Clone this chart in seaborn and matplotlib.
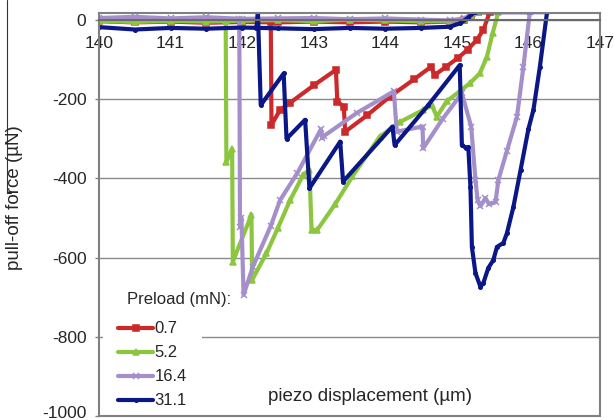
import matplotlib
matplotlib.use("Agg")
import matplotlib.pyplot as plt
import matplotlib.transforms as mtransforms
from matplotlib.lines import Line2D
import pandas as pd
import seaborn as sns

# Preload levels (mN) and the pull-off curves recorded for each one.
# Every path runs along the approach baseline, up into compression,
# then back along the retraction branch until the final detachment.
preloads = ["0.7", "5.2", "16.4", "31.1"]

red_x = [140.0, 140.5, 141.0, 141.5, 142.0, 142.5, 143.0, 143.5, 144.0, 144.5, 144.9, 145.1, 145.2, 145.3,
         145.46, 145.37, 145.28, 145.15, 145.02, 144.85, 144.69, 144.64, 144.4, 144.06, 143.75,
         143.44, 143.42, 143.33, 143.31, 143.0, 142.67, 142.53, 142.41, 142.40]
red_y = [-3, -6, -4, -7, -5, -6, -4, -6, -4, -6, -4, 0, 8, 20,
         20, -25, -50, -75, -95, -118, -139, -118, -150, -194, -240,
         -282, -219, -206, -126, -165, -209, -227, -265, -5]

green_x = [140.0, 140.5, 141.0, 141.5, 142.0, 142.5, 143.0, 143.5, 144.0, 144.5, 144.9, 145.1, 145.2, 145.3,
           145.58, 145.5, 145.42, 145.32, 145.18, 145.04, 144.86, 144.72, 144.65, 144.53, 144.2,
           143.92, 143.54, 143.3, 143.05, 142.97, 142.94, 142.85, 142.67, 142.5, 142.34, 142.14, 142.13,
           141.87, 141.86, 141.78, 141.77]
green_y = [-2, -5, -2, -4, -2, 0, -3, 1, -1, -3, -3, 2, 10, 20,
           20, -33, -93, -135, -160, -180, -205, -244, -215, -227, -258,
           -295, -395, -465, -530, -530, -378, -392, -455, -525, -589, -656, -492,
           -610, -326, -358, -3]

purple_x = [140.0, 140.5, 141.0, 141.5, 142.0, 142.5, 143.0, 143.5, 144.0, 144.5, 144.9, 145.1, 145.2, 145.25,
            146.02, 145.93, 145.84, 145.7, 145.58, 145.54, 145.45, 145.4, 145.33, 145.29, 145.26, 145.2,
            145.07, 144.8, 144.53, 144.52, 144.16, 144.12, 143.6, 143.15, 143.12, 143.1, 142.77, 142.53,
            142.4, 142.15, 142.02, 141.99, 141.97, 141.96]
purple_y = [5, 8, 4, 7, 3, 4, 5, 2, 4, 1, -1, 4, 12, 20,
            20, -118, -244, -330, -404, -460, -465, -450, -470, -455, -404, -269,
            -185, -250, -324, -269, -282, -180, -235, -292, -298, -276, -387, -455,
            -520, -623, -694, -500, -522, 3]

blue_x = [140.0, 140.5, 141.0, 141.5, 142.0, 142.5, 143.0, 143.5, 144.0, 144.5, 144.9, 145.05, 145.15, 145.25,
          146.26, 146.16, 146.07, 146.0, 145.89, 145.79, 145.7, 145.65, 145.56, 145.51, 145.44, 145.37,
          145.33, 145.26, 145.21, 145.19, 145.16, 145.13, 145.07, 145.04, 144.6, 144.13, 144.1,
          143.41, 143.37, 142.94, 142.88, 142.62, 142.58, 142.26, 142.22, 142.2]
blue_y = [-18, -24, -20, -22, -19, -21, -23, -20, -22, -20, -17, -8, 5, 20,
          20, -118, -227, -275, -379, -472, -538, -563, -573, -606, -626, -664,
          -674, -639, -573, -422, -321, -323, -316, -114, -215, -316, -269,
          -408, -307, -425, -252, -300, -135, -215, 20, -20]

y_ticks = [0, -200, -400, -600, -800, -1000]
x_ticks = [140, 141, 142, 143, 144, 145, 146, 147]

colors = {"0.7": "#cc2a2a", "5.2": "#8cc63f", "16.4": "#a48fcb", "31.1": "#0b1787"}
markers = {"0.7": "s", "5.2": "^", "16.4": "x", "31.1": "."}

frames = []
for level, xs, ys in zip(preloads, [red_x, green_x, purple_x, blue_x], [red_y, green_y, purple_y, blue_y]):
    frames.append(pd.DataFrame({"x": xs, "y": ys, "preload": level}))
df = pd.concat(frames, ignore_index=True)

sns.set_style("white")
plt.rcParams["font.family"] = ["Liberation Sans", "DejaVu Sans"]
plt.rcParams["axes.unicode_minus"] = False

fig = plt.figure(figsize=(6.14, 4.2), dpi=100)
ax = fig.add_axes([99 / 614, 4 / 420, 501 / 614, 403 / 420])

for level in preloads:
    sub = df[df["preload"] == level]
    sns.lineplot(data=sub, x="x", y="y", color=colors[level], marker=markers[level],
                 sort=False, estimator=None, linewidth=3.0, markersize=5,
                 markeredgecolor=colors[level], markeredgewidth=1.1, legend=False, ax=ax)

grey = "#808080"
ax.set_xlim(140, 147)
ax.set_ylim(-1000, 17.7)
ax.set_xticks(x_ticks)
ax.set_xticklabels([str(v) for v in x_ticks])
ax.set_yticks(y_ticks)
ax.set_yticklabels([str(v) for v in y_ticks])
ax.set_xlabel("")
ax.set_ylabel("")

ax.yaxis.grid(True, color="#8a8a8a", linewidth=1.0)
ax.xaxis.grid(False)
ax.set_axisbelow(True)

for side in ["left", "right", "top"]:
    ax.spines[side].set_color(grey)
    ax.spines[side].set_linewidth(1.5)
ax.spines["bottom"].set_position(("data", 0))
ax.spines["bottom"].set_color("#6a6a6a")
ax.spines["bottom"].set_linewidth(1.5)
ax.plot([0, 1], [0, 0], transform=ax.transAxes, color=grey, lw=1.5, clip_on=False, zorder=8)

ax.tick_params(axis="x", direction="out", length=3, width=1, color=grey, pad=8.5, labelsize=12.5)
ax.tick_params(axis="y", direction="out", length=3, width=1, color=grey, pad=6, labelsize=12.5,
               left=True)

# keep the lowest y label inside the canvas
low_label = ax.yaxis.get_major_ticks()[-1].label1
low_label.set_transform(low_label.get_transform()
                        + mtransforms.ScaledTranslation(0, 4 / 100, fig.dpi_scale_trans))

ax.text(143.78, -952, "piezo displacement (µm)", ha="center", va="center", fontsize=13.5, zorder=7)
fig.text(15 / 614, 1 - 198 / 420, "pull-off force (µN)", rotation=90, ha="center", va="center",
         fontsize=13.5)

handles = [Line2D([], [], color=colors[p], marker=markers[p], markersize=5, markeredgewidth=1.1,
                  markeredgecolor=colors[p], linewidth=3.0) for p in preloads]
leg = ax.legend(handles, preloads, loc="upper left", bbox_to_anchor=(0.008, 0.272), fontsize=12,
                frameon=True, facecolor="white", edgecolor="none", framealpha=1, fancybox=False,
                handlelength=2.1, handletextpad=0.1, labelspacing=0.54, borderpad=0.9, borderaxespad=0)
leg.set_zorder(6)
ax.text(140.39, -707, "Preload (mN):", ha="left", va="center", fontsize=12, zorder=7)

# thin frame edge from a neighbouring panel
fig.add_artist(Line2D([7 / 614, 7 / 614], [1, 1 - 193 / 420], color="#333333", lw=0.8))
fig.add_artist(Line2D([7 / 614, 11 / 614], [1 - 193 / 420, 1 - 193 / 420], color="#333333", lw=0.8))

fig.savefig("out.png", dpi=100)
